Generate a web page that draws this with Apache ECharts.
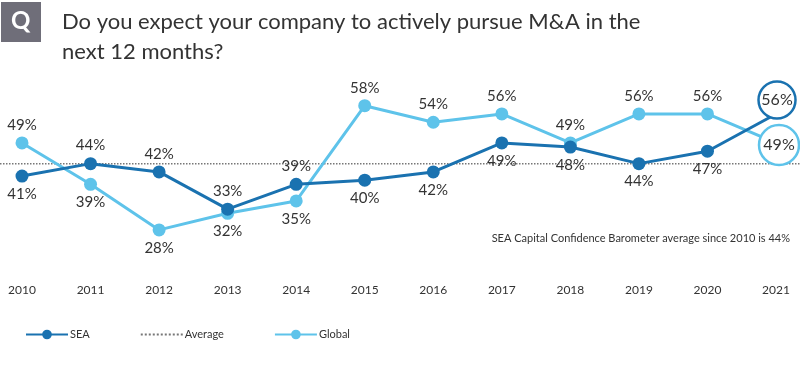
<!DOCTYPE html>
<html>
<head>
<meta charset="utf-8">
<script src="https://cdn.jsdelivr.net/npm/echarts@6/dist/echarts.min.js"></script>
<style>
  html, body { margin: 0; padding: 0; background: #fff; }
  #chart { width: 800px; height: 375px; }
</style>
</head>
<body>
<div id="chart"></div>
<script>
const years = [2010, 2011, 2012, 2013, 2014, 2015, 2016, 2017, 2018, 2019, 2020, 2021];
const seaValues = [41, 44, 42, 33, 39, 40, 42, 49, 48, 44, 47, 56];
const globalValues = [49, 39, 28, 32, 35, 58, 54, 56, 49, 56, 56, 49];
const averageValue = 44;

// where each label sits relative to its point
const seaLabelPos = ['bottom', 'top', 'top', 'top', 'top', 'bottom', 'bottom', 'bottom', 'bottom', 'bottom', 'bottom', 'inside'];
const globalLabelPos = ['top', 'bottom', 'bottom', 'bottom', 'bottom', 'top', 'top', 'top', 'top', 'top', 'top', 'inside'];

const seaColor = '#1a72b0';
const globalColor = '#5ec3ea';
const textColor = '#333';
const fontFamily = 'Lato, "Noto Sans", sans-serif';

const xMin = 2009.679;
const xMax = 2021.35;

function buildData(values, positions, color, lastOffset, lastSize) {
  return values.map(function (v, i) {
    const item = {
      value: [years[i], v],
      label: { position: positions[i], distance: 4 }
    };
    if (i === values.length - 1) {
      // the 2021 point is drawn as a big ring with its value inside
      item.symbolSize = lastSize;
      item.symbolOffset = lastOffset;
      item.itemStyle = { color: '#fff', borderColor: color, borderWidth: 2.5 };
      item.label = { position: 'inside', fontSize: 16 };
    }
    return item;
  });
}

const chart = echarts.init(document.getElementById('chart'));

const option = {
  animation: false,
  textStyle: { fontFamily: fontFamily },
  grid: { left: 0, right: 0, top: 56, bottom: 112 },
  graphic: [
    {
      type: 'rect',
      left: 1, top: 2,
      shape: { width: 40, height: 40 },
      style: { fill: '#6f6e79' }
    },
    {
      type: 'text',
      left: 11, top: 9,
      style: { text: 'Q', fill: '#fff', font: 'bold 24px ' + fontFamily }
    },
    {
      type: 'text',
      left: 62, top: 7,
      style: {
        text: 'Do you expect your company to actively pursue M&A in the\nnext 12 months?',
        fill: textColor,
        font: '22px ' + fontFamily,
        lineHeight: 30
      }
    },
    {
      type: 'text',
      right: 10, top: 233,
      style: {
        text: 'SEA Capital Confidence Barometer average since 2010 is 44%',
        fill: textColor,
        font: '11px ' + fontFamily
      }
    }
  ],
  legend: {
    left: 20, top: 324,
    itemWidth: 42, itemHeight: 12, itemGap: 50,
    data: ['SEA', { name: 'Average', itemStyle: { opacity: 0 } }, 'Global'],
    textStyle: { color: textColor, fontSize: 11, padding: [0, 0, 0, -3] }
  },
  xAxis: {
    type: 'value',
    min: xMin, max: xMax,
    splitLine: { show: false },
    axisLine: { show: false },
    axisTick: { show: false },
    axisLabel: {
      customValues: years,
      color: textColor,
      fontSize: 12,
      margin: 21,
      formatter: function (v) { return String(v); }
    }
  },
  yAxis: {
    type: 'value',
    min: 20, max: 70,
    show: false
  },
  series: [
    {
      name: 'Average',
      type: 'line',
      symbol: 'none',
      color: '#777',
      lineStyle: { type: 'dotted', width: 1.5, color: '#777' },
      data: [[xMin, averageValue], [xMax, averageValue]],
      z: 1
    },
    {
      name: 'SEA',
      type: 'line',
      symbol: 'circle',
      symbolSize: 13,
      color: seaColor,
      lineStyle: { width: 3, color: seaColor },
      label: {
        show: true,
        color: textColor,
        fontSize: 15,
        formatter: function (p) { return p.value[1] + '%'; }
      },
      data: buildData(seaValues, seaLabelPos, seaColor, [1, -14], 37),
      z: 3
    },
    {
      name: 'Global',
      type: 'line',
      symbol: 'circle',
      symbolSize: 13,
      color: globalColor,
      lineStyle: { width: 3, color: globalColor },
      label: {
        show: true,
        color: textColor,
        fontSize: 15,
        formatter: function (p) { return p.value[1] + '%'; }
      },
      data: buildData(globalValues, globalLabelPos, globalColor, [3, 2], 40),
      z: 2
    }
  ]
};

chart.setOption(option);
</script>
</body>
</html>
